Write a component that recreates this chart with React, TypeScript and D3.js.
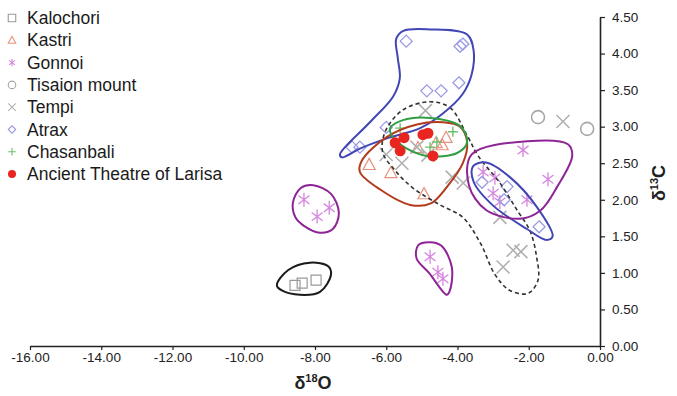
import React, { useRef, useEffect } from "react";
import * as d3 from "d3";

type Pt = [number, number];

// δ18O, δ13C values per site
const kalochori: Pt[] = [[-8.56, 0.83], [-8.36, 0.86], [-7.97, 0.9]];
const kastri: Pt[] = [[-6.48, 2.48], [-5.87, 2.37], [-4.94, 2.08], [-5.11, 2.71], [-4.6, 2.78], [-4.32, 2.85], [-4.43, 2.75]];
const gonnoi: Pt[] = [
  [-8.31, 2.0], [-7.94, 1.77], [-7.6, 1.89],
  [-4.77, 1.22], [-4.55, 1.01], [-4.41, 0.92],
  [-2.16, 2.68], [-1.46, 2.28], [-3.28, 2.38], [-2.95, 2.3], [-3.0, 2.09], [-2.81, 1.97], [-2.05, 2.0],
];
const tisaion: Pt[] = [[-1.74, 3.13], [-0.36, 2.97]];
const tempi: Pt[] = [
  [-4.9, 3.22], [-6.0, 2.62], [-5.56, 2.5], [-5.14, 2.72], [-4.83, 2.61], [-4.15, 2.31], [-3.84, 2.23],
  [-2.81, 1.76], [-2.72, 1.08], [-2.44, 1.31], [-2.22, 1.29], [-1.04, 3.07],
];
const atrax: Pt[] = [
  [-5.44, 4.17], [-3.93, 4.1], [-3.85, 4.13], [-4.86, 3.49], [-4.46, 3.49], [-3.96, 3.6],
  [-6.0, 2.99], [-6.96, 2.72], [-6.74, 2.72], [-3.31, 2.24], [-2.61, 2.18], [-2.69, 2.0], [-1.71, 1.63],
];
const chasanbali: Pt[] = [[-5.61, 2.98], [-4.58, 2.79], [-4.13, 2.93], [-4.77, 2.72]];
const larisa: Pt[] = [[-5.5, 2.85], [-5.75, 2.78], [-5.61, 2.67], [-4.97, 2.89], [-4.83, 2.91], [-4.69, 2.6]];

// hand drawn group outlines (data units)
const kalochoriHull: Pt[] = [[-9.07, 0.83], [-8.75, 1.04], [-8.14, 1.14], [-7.63, 1.09], [-7.55, 0.98], [-7.86, 0.74], [-8.42, 0.7], [-8.93, 0.76]];
const gonnoiLeftHull: Pt[] = [[-8.62, 1.96], [-8.4, 2.16], [-8.05, 2.2], [-7.55, 2.08], [-7.33, 1.82], [-7.5, 1.6], [-7.86, 1.55], [-8.3, 1.64], [-8.55, 1.76]];
const gonnoiLowHull: Pt[] = [[-4.77, 1.42], [-4.45, 1.37], [-4.16, 1.08], [-4.22, 0.75], [-4.3, 0.7], [-4.8, 1.0], [-5.15, 1.2], [-5.1, 1.38]];
const gonnoiRightHull: Pt[] = [[-3.6, 2.62], [-2.05, 2.8], [-0.9, 2.76], [-0.78, 2.6], [-1.2, 2.18], [-1.68, 1.85], [-2.25, 1.74], [-3.2, 1.86], [-3.68, 2.2]];
const atraxRightHull: Pt[] = [[-3.56, 2.46], [-3.2, 2.51], [-2.53, 2.31], [-1.77, 1.9], [-1.33, 1.5], [-1.5, 1.45], [-2.05, 1.6], [-3.0, 1.92], [-3.55, 2.25]];
const atraxTopHull: Pt[] = [
  [-7.3, 2.62], [-6.46, 3.06], [-5.81, 3.41], [-5.62, 3.66], [-5.68, 3.95], [-5.72, 4.2], [-5.52, 4.31],
  [-4.77, 4.33], [-3.73, 4.26], [-3.55, 4.05], [-3.6, 3.72], [-3.85, 3.45], [-4.41, 3.18], [-5.05, 2.98],
  [-5.98, 2.84], [-6.74, 2.7], [-7.24, 2.58],
];
const kastriHull: Pt[] = [[-6.68, 2.54], [-5.98, 2.86], [-5.14, 3.03], [-4.41, 3.06], [-3.93, 3.0], [-3.73, 2.79], [-3.85, 2.5], [-4.29, 2.18], [-4.75, 1.95], [-5.33, 1.93], [-6.17, 2.14], [-6.74, 2.38]];
const chasanbaliHull: Pt[] = [[-5.89, 2.98], [-5.53, 3.09], [-4.77, 3.12], [-3.93, 3.01], [-3.73, 2.79], [-4.01, 2.64], [-4.86, 2.6], [-5.42, 2.7], [-5.81, 2.85]];
const tempiHull: Pt[] = [
  [-4.77, 3.34], [-4.21, 3.26], [-3.73, 2.88], [-3.42, 2.6], [-2.81, 2.23], [-2.33, 1.86], [-1.96, 1.57],
  [-1.78, 1.22], [-1.74, 0.9], [-2.02, 0.72], [-2.53, 0.76], [-2.95, 0.98], [-3.35, 1.4], [-3.85, 1.76],
  [-4.49, 1.93], [-5.25, 2.16], [-5.75, 2.4], [-6.1, 2.65], [-6.03, 2.93], [-5.53, 3.23],
];

const xTicks = [-16, -14, -12, -10, -8, -6, -4, -2, 0];
const yTicks = [0, 0.5, 1, 1.5, 2, 2.5, 3, 3.5, 4, 4.5];

const legendNames = ["Kalochori", "Kastri", "Gonnoi", "Tisaion mount", "Tempi", "Atrax", "Chasanbali", "Ancient Theatre of Larisa"];

const W = 677;
const H = 396;

// marker path builders, centred on 0,0
function markerPath(kind: string, s: number): string {
  const h = s / 2;
  switch (kind) {
    case "square":
      return `M${-h},${-h}H${h}V${h}H${-h}Z`;
    case "triangle":
      return `M0,${-h * 1.05}L${h},${h * 0.8}L${-h},${h * 0.8}Z`;
    case "star": {
      const dx = h * 0.78, dy = h * 0.6;
      return `M0,${-h}V${h}M${-dx},${-dy}L${dx},${dy}M${-dx},${dy}L${dx},${-dy}`;
    }
    case "circle":
      return d3.arc()({ innerRadius: 0, outerRadius: h, startAngle: 0, endAngle: Math.PI * 2 }) as string;
    case "x":
      return `M${-h},${-h}L${h},${h}M${-h},${h}L${h},${-h}`;
    case "diamond":
      return `M0,${-h}L${h},0L0,${h}L${-h},0Z`;
    case "plus":
      return `M0,${-h}V${h}M${-h},0H${h}`;
    default:
      return "";
  }
}

export default function App() {
  const ref = useRef<SVGSVGElement>(null);

  useEffect(() => {
    const svg = d3.select(ref.current);
    svg.selectAll("*").remove();

    const x = d3.scaleLinear().domain([-16, 0]).range([30, 600]);
    const y = d3.scaleLinear().domain([0, 4.5]).range([346, 17]);

    const font = "Liberation Sans, Arial, sans-serif";

    // X axis
    const gx = svg.append("g").attr("transform", `translate(0,${y(0)})`)
      .call(d3.axisBottom(x).tickValues(xTicks).tickSize(4).tickSizeOuter(0).tickPadding(2).tickFormat((d) => (+d).toFixed(2)));
    gx.select(".domain").attr("stroke", "#222").attr("stroke-width", 1.6);
    gx.selectAll(".tick line").attr("stroke", "#222").attr("stroke-width", 1.2);
    gx.selectAll("text").attr("font-family", font).attr("font-size", 13.5).attr("fill", "#222");

    // Y axis
    const gy = svg.append("g").attr("transform", `translate(${x(0)},0)`)
      .call(d3.axisRight(y).tickValues(yTicks).tickSize(5).tickSizeOuter(0).tickPadding(7).tickFormat((d) => (+d).toFixed(2)));
    gy.select(".domain").attr("stroke", "#222").attr("stroke-width", 1.6);
    gy.selectAll(".tick line").attr("stroke", "#222").attr("stroke-width", 1.2);
    gy.selectAll("text").attr("font-family", font).attr("font-size", 13.5).attr("fill", "#222");

    // axis titles
    const xt = svg.append("text").attr("x", 313).attr("y", 389).attr("text-anchor", "middle")
      .attr("font-family", font).attr("font-weight", "bold").attr("font-size", 18).attr("fill", "#222");
    xt.append("tspan").text("δ");
    xt.append("tspan").attr("font-size", 11).attr("dy", -7).text("18");
    xt.append("tspan").attr("dy", 7).text("O");

    const yt = svg.append("text").attr("transform", "translate(665,183) rotate(-90)").attr("text-anchor", "middle")
      .attr("font-family", font).attr("font-weight", "bold").attr("font-size", 18).attr("fill", "#222");
    yt.append("tspan").text("δ");
    yt.append("tspan").attr("font-size", 11).attr("dy", -7).text("13");
    yt.append("tspan").attr("dy", 7).text("C");

    const series = [
      { data: kalochori, kind: "square", size: 10, color: "#9a9a9a", sw: 1.2 },
      { data: kastri, kind: "triangle", size: 12, color: "#e8917c", sw: 1.2 },
      { data: gonnoi, kind: "star", size: 14, color: "#d585df", sw: 1.3 },
      { data: tisaion, kind: "circle", size: 13, color: "#a8a8a8", sw: 1.6 },
      { data: tempi, kind: "x", size: 13, color: "#b0b0b0", sw: 1.6 },
      { data: atrax, kind: "diamond", size: 12, color: "#9a9ae6", sw: 1.3 },
      { data: chasanbali, kind: "plus", size: 10, color: "#6cc06c", sw: 1.4 },
    ];

    const marks = svg.append("g");
    series.forEach((s) => {
      marks.append("g").selectAll("path").data(s.data).enter().append("path")
        .attr("transform", (d) => `translate(${x(d[0])},${y(d[1])})`)
        .attr("d", markerPath(s.kind, s.size))
        .attr("fill", "none").attr("stroke", s.color).attr("stroke-width", s.sw);
    });

    // outlines
    const line = d3.line<Pt>().x((d) => x(d[0])).y((d) => y(d[1])).curve(d3.curveCatmullRomClosed.alpha(0.5));
    const hulls = [
      { data: tempiHull, color: "#333", dash: "4,3", sw: 1.6 },
      { data: atraxTopHull, color: "#4146b4", sw: 2 },
      { data: atraxRightHull, color: "#4146b4", sw: 2 },
      { data: gonnoiLeftHull, color: "#8e2596", sw: 2 },
      { data: gonnoiLowHull, color: "#8e2596", sw: 2 },
      { data: gonnoiRightHull, color: "#8e2596", sw: 2 },
      { data: kalochoriHull, color: "#1a1a1a", sw: 2 },
      { data: kastriHull, color: "#b33a1c", sw: 2 },
      { data: chasanbaliHull, color: "#2f9e44", sw: 2 },
    ];
    hulls.forEach((h) => {
      svg.append("path").attr("d", line(h.data) as string).attr("fill", "none")
        .attr("stroke", h.color).attr("stroke-width", h.sw)
        .attr("stroke-dasharray", h.dash || null);
    });

    // Larisa samples on top
    svg.append("g").selectAll("circle").data(larisa).enter().append("circle")
      .attr("cx", (d) => x(d[0])).attr("cy", (d) => y(d[1])).attr("r", 5.5).attr("fill", "#e8251f");

    // legend
    const lg = svg.append("g");
    legendNames.forEach((name, i) => {
      const cy = 18 + i * 22.3;
      const row = lg.append("g").attr("transform", `translate(0,${cy})`);
      if (i < series.length) {
        const s = series[i];
        row.append("path").attr("transform", "translate(12,0)").attr("d", markerPath(s.kind, 7.5))
          .attr("fill", "none").attr("stroke", s.color).attr("stroke-width", 1.1);
      } else {
        row.append("circle").attr("cx", 12).attr("cy", 0).attr("r", 4).attr("fill", "#e8251f");
      }
      row.append("text").attr("x", 27).attr("y", 0).attr("dy", "0.35em")
        .attr("font-family", font).attr("font-size", 17.5).attr("fill", "#1a1a1a").text(name);
    });
  }, []);

  return (
    <svg ref={ref} width={W} height={H} style={{ position: "fixed", left: 0, top: 0, background: "#fff" }} />
  );
}
